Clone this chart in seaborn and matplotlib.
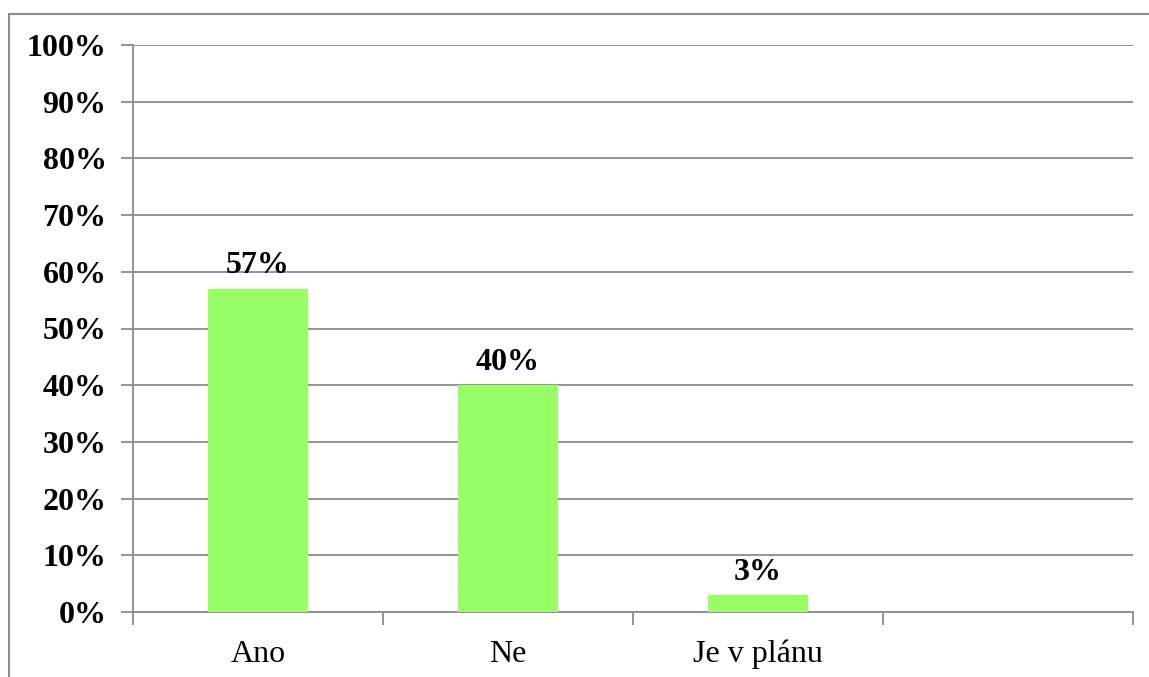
import matplotlib
matplotlib.use("Agg")
import matplotlib.pyplot as plt
import seaborn as sns
import pandas as pd
from matplotlib.lines import Line2D
from matplotlib.ticker import FixedLocator, PercentFormatter

categories = ["Ano", "Ne", "Je v plánu", ""]
values = [57, 40, 3]
labels = ["57%", "40%", "3%"]
yticks = list(range(0, 101, 10))

sns.set_theme(style="white")
plt.rcParams['font.family'] = ['Liberation Serif', 'DejaVu Serif']
plt.rcParams['text.color'] = 'black'
plt.rcParams['xtick.color'] = 'black'
plt.rcParams['ytick.color'] = 'black'

W, H = 1149, 677
fig = plt.figure(figsize=(W / 100, H / 100), dpi=100)
fig.patch.set_facecolor("white")
ax = fig.add_axes([133 / W, 1 - 612 / H, 1000 / W, (612 - 45) / H])

df = pd.DataFrame({"cat": categories[:3], "val": values})
sns.barplot(data=df, x="cat", y="val", order=categories, color="#99FF66",
            saturation=1, width=0.4, ax=ax, zorder=3, linewidth=0, edgecolor="none")

grid_c = "#8c8c8c"
ax.set_ylim(0, 100)
ax.set_xlim(-0.5, 3.5)
ax.set_yticks(yticks)
ax.yaxis.set_major_formatter(PercentFormatter(100, decimals=0))
ax.grid(axis="y", color=grid_c, linewidth=1.3, zorder=0)
ax.set_axisbelow(True)

# x: ticks at category boundaries, labels at centers
ax.xaxis.set_major_locator(FixedLocator([-0.5, 0.5, 1.5, 2.5, 3.5]))
ax.set_xticklabels([])
ax.xaxis.set_minor_locator(FixedLocator([0, 1, 2, 3]))
ax.set_xticklabels(categories, minor=True)
ax.tick_params(axis="x", which="major", length=9, width=1.3, color=grid_c, bottom=True, direction="out")
ax.tick_params(axis="x", which="minor", length=0, labelsize=23, pad=20, bottom=True, labelcolor="black")
ax.tick_params(axis="y", which="major", length=9, width=1.3, color=grid_c, left=True,
               labelsize=23, pad=10, labelcolor="black")
for lab in ax.get_yticklabels():
    lab.set_fontweight("bold")

for s in ["top", "right"]:
    ax.spines[s].set_visible(False)
for s in ["left", "bottom"]:
    ax.spines[s].set_color(grid_c)
    ax.spines[s].set_linewidth(1.3)

ax.set_xlabel("")
ax.set_ylabel("")

for i, (v, t) in enumerate(zip(values, labels)):
    ax.annotate(t, (i, v), xytext=(0, 6), textcoords="offset points",
                ha="center", va="bottom", fontsize=23, fontweight="bold", color="black")

# outer chart-area border (left and top edges only visible)
x0 = 8.5 / W
y0 = 1 - 13.5 / H
fig.add_artist(Line2D([x0, x0], [0, y0], transform=fig.transFigure, color=grid_c, linewidth=1.5))
fig.add_artist(Line2D([x0, 1], [y0, y0], transform=fig.transFigure, color=grid_c, linewidth=1.5))

fig.savefig("out.png", dpi=100, facecolor="white")
